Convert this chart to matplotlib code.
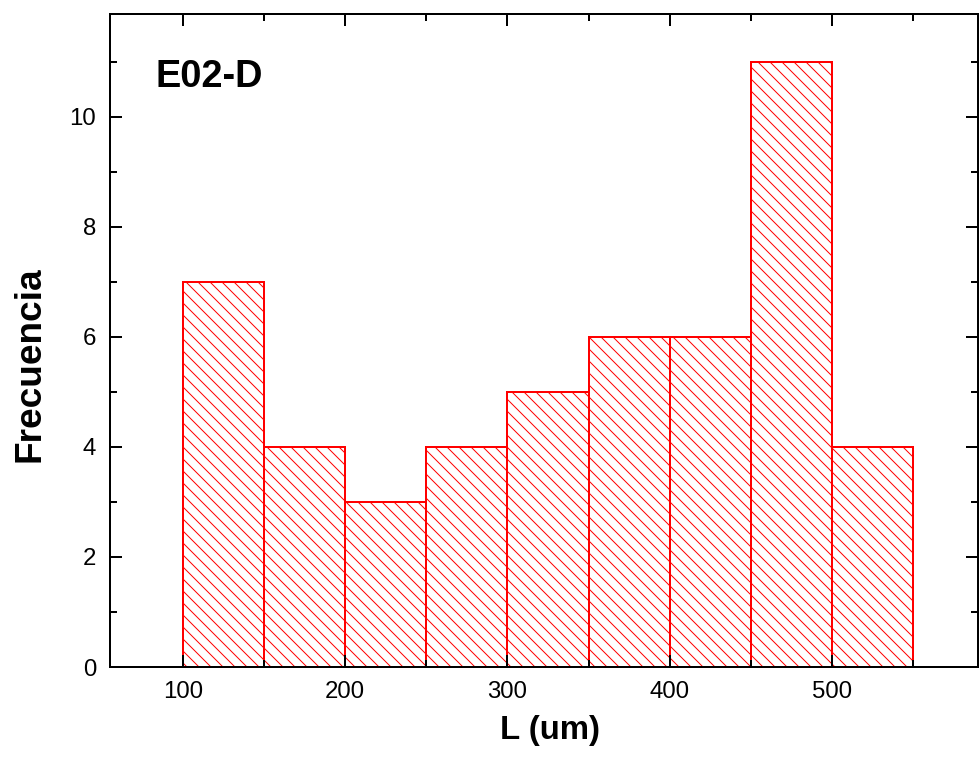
import matplotlib
matplotlib.use("Agg")
import matplotlib.pyplot as plt
from matplotlib.ticker import MultipleLocator

bin_edges = [100, 150, 200, 250, 300, 350, 400, 450, 500, 550]
counts = [7, 4, 3, 4, 5, 6, 6, 11, 4]
title_text = "E02-D"
xlabel = "L (um)"
ylabel = "Frecuencia"

plt.rcParams['font.family'] = ['Liberation Sans', 'DejaVu Sans']

fig = plt.figure(figsize=(979/72, 762/72), dpi=72)
ax = fig.add_axes([110/979, 95/762, 868/979, 653/762])

lefts = bin_edges[:-1]
widths = [b - a for a, b in zip(bin_edges[:-1], bin_edges[1:])]
ax.bar(lefts, counts, width=widths, align='edge', facecolor='white',
       edgecolor='#ff0000', linewidth=2, hatch='\\\\')

ax.set_xlim(55, 590)
ax.set_ylim(0, 11.87)

ax.xaxis.set_major_locator(MultipleLocator(100))
ax.xaxis.set_minor_locator(MultipleLocator(50))
ax.yaxis.set_major_locator(MultipleLocator(2))
ax.yaxis.set_minor_locator(MultipleLocator(1))
ax.set_axisbelow(False)

ax.tick_params(which='both', direction='in', top=True, right=True, width=2,
               labelsize=24, color='black')
ax.tick_params(which='major', length=12)
ax.tick_params(which='minor', length=7)
ax.tick_params(axis='x', which='major', pad=14)
ax.tick_params(axis='y', which='major', pad=14)

for s in ax.spines.values():
    s.set_linewidth(2)

ax.set_xlabel(xlabel, fontsize=33, fontweight='bold', labelpad=12)
ax.set_ylabel(ylabel, fontsize=37, fontweight='bold', labelpad=22)
ax.xaxis.label.set_x(0.507)
ax.yaxis.label.set_y(0.464)

ax.text(0.052, 0.888, title_text, transform=ax.transAxes, fontsize=38,
        fontweight='bold', ha='left', va='baseline')

fig.savefig('out.png', dpi=72)
